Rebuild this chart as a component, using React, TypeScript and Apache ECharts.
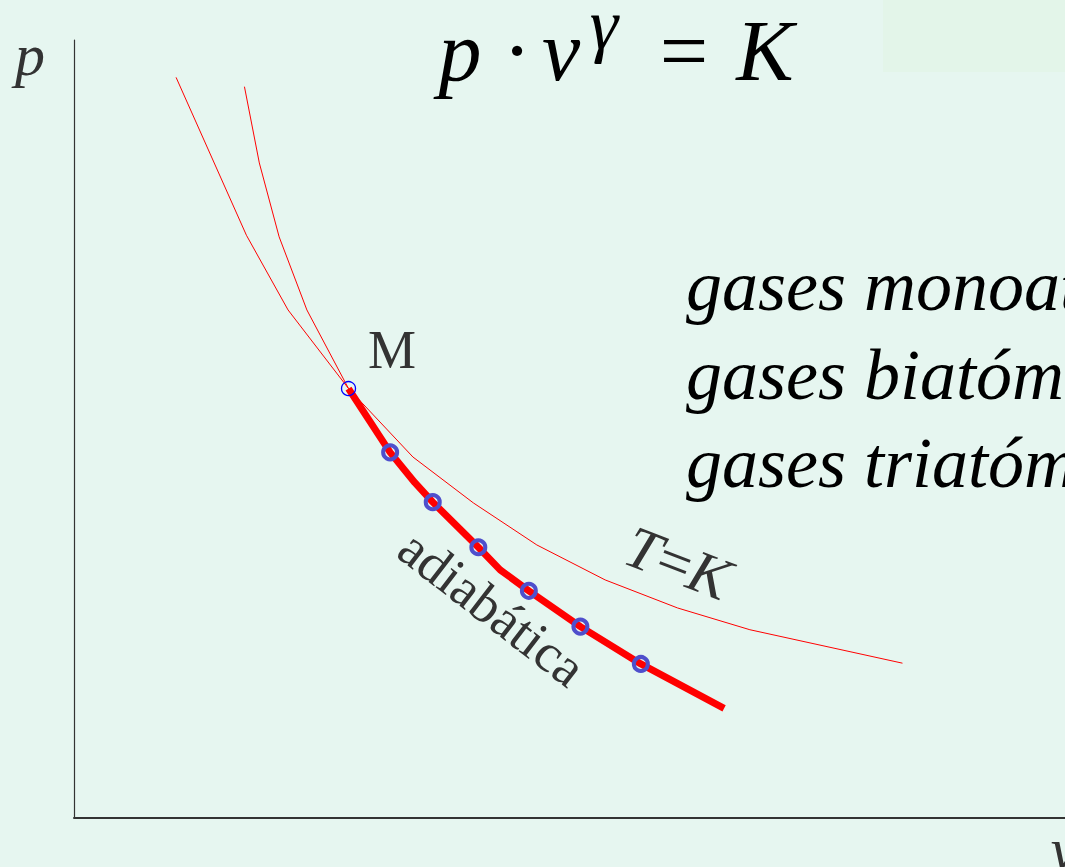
import React, { useEffect, useRef } from "react";
import * as echarts from "echarts";

// p–v diagram: isotherm and adiabat through point M
const isothermV = [1.03, 1.74, 2.16, 2.77, 3.42, 4.03, 4.67, 5.36, 6.09, 6.82, 8.36];
const isothermP = [9.52, 7.49, 6.53, 5.52, 4.64, 4.05, 3.51, 3.06, 2.7, 2.42, 1.99];

const adiabatUpperV = [1.72, 1.87, 2.07, 2.35, 2.77];
const adiabatUpperP = [9.4, 8.42, 7.47, 6.53, 5.52];

const adiabatV = [2.77, 3.19, 3.44, 3.62, 4.08, 4.3, 4.59, 5.11, 5.72, 6.56];
const adiabatP = [5.52, 4.7, 4.31, 4.06, 3.48, 3.19, 2.92, 2.46, 1.98, 1.41];

const markerV = [3.19, 3.62, 4.08, 4.59, 5.11, 5.72];
const markerP = [4.7, 4.06, 3.48, 2.92, 2.46, 1.98];

const pointM = [2.77, 5.52];

const gasLines = ["gases monoatómicos", "gases biatómicos", "gases triatómicos"];

const SERIF = "'Liberation Serif', 'Times New Roman', serif";

const zip = (a: number[], b: number[]) => a.map((v, i) => [v, b[i]]);

export default function App() {
  const ref = useRef<HTMLDivElement>(null);

  useEffect(() => {
    if (!ref.current) return;
    const chart = echarts.init(ref.current, undefined, { renderer: "svg" });

    const txt = (
      text: string,
      x: number,
      y: number,
      size: number,
      opts: { italic?: boolean; fill?: string; align?: string; rotation?: number } = {}
    ) => ({
      type: "text",
      x,
      y,
      rotation: opts.rotation ?? 0,
      z: 10,
      style: {
        text,
        fontFamily: SERIF,
        fontSize: size,
        fontStyle: opts.italic ? "italic" : "normal",
        fill: opts.fill ?? "#000",
        align: opts.align ?? "center",
        verticalAlign: "middle",
      },
    });

    const deg = Math.PI / 180;

    chart.setOption({
      animation: false,
      backgroundColor: "#e6f6f0",
      grid: { left: 74, right: 0, top: 40, bottom: 49, containLabel: false },
      xAxis: {
        type: "value",
        min: 0,
        max: 10,
        axisLine: { show: true, lineStyle: { color: "#333", width: 2 } },
        axisTick: { show: false },
        axisLabel: { show: false },
        splitLine: { show: false },
      },
      yAxis: {
        type: "value",
        min: 0,
        max: 10,
        axisLine: { show: true, lineStyle: { color: "#333", width: 1.2 } },
        axisTick: { show: false },
        axisLabel: { show: false },
        splitLine: { show: false },
      },
      series: [
        {
          type: "line",
          name: "isoterma",
          data: zip(isothermV, isothermP),
          symbol: "none",
          lineStyle: { color: "#ff0000", width: 1 },
          z: 2,
        },
        {
          type: "line",
          name: "adiabática (expansión previa)",
          data: zip(adiabatUpperV, adiabatUpperP),
          symbol: "none",
          lineStyle: { color: "#ff0000", width: 1 },
          z: 2,
        },
        {
          type: "line",
          name: "adiabática",
          data: zip(adiabatV, adiabatP),
          symbol: "none",
          lineStyle: { color: "#ff0000", width: 7 },
          z: 3,
        },
        {
          type: "scatter",
          data: zip(markerV, markerP),
          symbol: "circle",
          symbolSize: 14,
          itemStyle: { color: "transparent", borderColor: "#4f4fcc", borderWidth: 4, opacity: 1 },
          z: 4,
        },
        {
          type: "scatter",
          data: [pointM],
          symbol: "circle",
          symbolSize: 14,
          itemStyle: { color: "transparent", borderColor: "#0000ff", borderWidth: 1.3, opacity: 1 },
          z: 4,
        },
      ],
      graphic: [
        {
          type: "rect",
          shape: { x: 883, y: 0, width: 182, height: 72 },
          style: { fill: "#e3f5e9" },
          z: 0,
        },
        // formula p · v^γ = K
        txt("p", 460, 51, 86, { italic: true }),
        txt("·", 517, 51, 86),
        txt("v", 561, 51, 86, { italic: true }),
        txt("γ", 604, 25, 72, { italic: true }),
        txt("=", 684, 51, 86),
        txt("K", 765, 51, 86, { italic: true }),
        // axis names
        txt("p", 30, 55, 60, { italic: true, fill: "#333" }),
        txt("v", 1064, 849, 60, { italic: true, fill: "#333" }),
        // point label
        txt("M", 392, 350, 54, { fill: "#333" }),
        // gas types
        ...gasLines.map((g, i) => txt(g, 686, 286 + i * 88.5, 72, { italic: true, align: "left" })),
        // curve labels
        {
          type: "text",
          x: 678,
          y: 563,
          rotation: -21 * deg,
          z: 10,
          style: {
            text: "{i|T}{n|=}{i|K}",
            align: "center",
            verticalAlign: "middle",
            rich: {
              i: { fontFamily: SERIF, fontSize: 60, fontStyle: "italic", fill: "#333" },
              n: { fontFamily: SERIF, fontSize: 60, fill: "#333" },
            },
          },
        },
        txt("adiabática", 492, 608, 54, { fill: "#333", rotation: -37.6 * deg }),
      ],
    });

    return () => chart.dispose();
  }, []);

  return (
    <div
      ref={ref}
      style={{ position: "absolute", left: 0, top: 0, width: 1065, height: 867, overflow: "hidden" }}
    />
  );
}
